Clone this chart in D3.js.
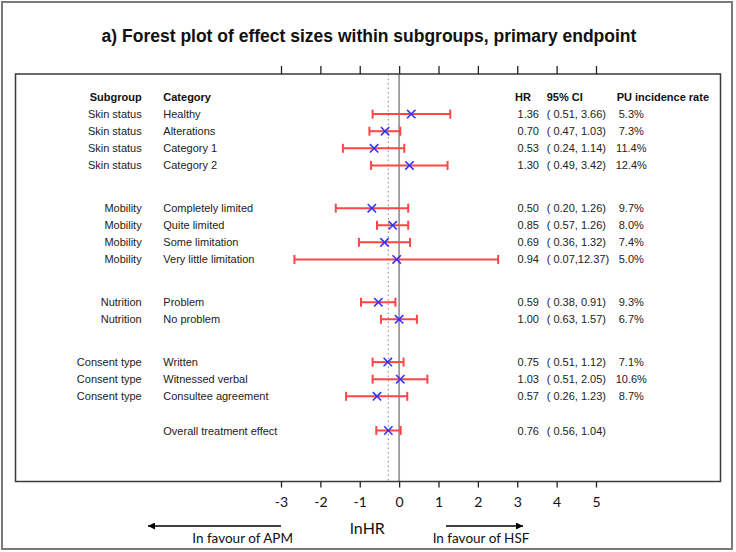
<!DOCTYPE html>
<html>
<head>
<meta charset="utf-8">
<script src="https://cdn.jsdelivr.net/npm/d3@7"></script>
<style>
  html, body { margin: 0; padding: 0; background: #fff; }
  svg text { white-space: pre; }
</style>
</head>
<body>
<svg id="chart" width="736" height="552"></svg>
<script>
// ---------------- data ----------------
const subgroups = ["Skin status","Skin status","Skin status","Skin status",
  "Mobility","Mobility","Mobility","Mobility",
  "Nutrition","Nutrition",
  "Consent type","Consent type","Consent type"];
const categories = ["Healthy","Alterations","Category 1","Category 2",
  "Completely limited","Quite limited","Some limitation","Very little limitation",
  "Problem","No problem",
  "Written","Witnessed verbal","Consultee agreement"];
const hr     = [1.36, 0.70, 0.53, 1.30, 0.50, 0.85, 0.69, 0.94, 0.59, 1.00, 0.75, 1.03, 0.57];
const ciLow  = [0.51, 0.47, 0.24, 0.49, 0.20, 0.57, 0.36, 0.07, 0.38, 0.63, 0.51, 0.51, 0.26];
const ciHigh = [3.66, 1.03, 1.14, 3.42, 1.26, 1.26, 1.32, 12.37, 0.91, 1.57, 1.12, 2.05, 1.23];
const incidence = ["5.3%","7.3%","11.4%","12.4%","9.7%","8.0%","7.4%","5.0%","9.3%","6.7%","7.1%","10.6%","8.7%"];
const overallLabel = "Overall treatment effect";
const overallHR = 0.76, overallLow = 0.56, overallHigh = 1.04;
const xTicks = [-3, -2, -1, 0, 1, 2, 3, 4, 5];
const headers = {subgroup: "Subgroup", category: "Category", hr: "HR", ci: "95% CI", pu: "PU incidence rate"};
const title = "a) Forest plot of effect sizes within subgroups, primary endpoint";
const xLabel = "lnHR";
const leftNote = "In favour of APM", rightNote = "In favour of HSF";

// ---------------- layout ----------------
const svg = d3.select("#chart");
const W = 736, H = 552;
const box = {l: 15.5, r: 720.5, t: 74, b: 481.5};

// row positions (group gaps)
const rowPos = [];
let p = 1;
subgroups.forEach((g, i) => {
  if (i > 0) p += (g === subgroups[i - 1]) ? 1 : 2.5;
  rowPos.push(p);
});
const overallPos = p + 2;

const rows = subgroups.map((g, i) => ({
  sub: g, cat: categories[i], hr: hr[i], lo: ciLow[i], hi: ciHigh[i], pu: incidence[i], pos: rowPos[i]
}));
rows.push({sub: "", cat: overallLabel, hr: overallHR, lo: overallLow, hi: overallHigh, pu: "", pos: overallPos});

const x = d3.scaleLinear().domain([-3, 5]).range([281, 596]);
const y = d3.scaleLinear().domain([0, overallPos]).range([97, 430.5]);

// outer frame
svg.append("rect").attr("x", 2).attr("y", 2).attr("width", W - 4 - 2).attr("height", H - 4 - 1)
  .attr("fill", "none").attr("stroke", "#7a7a7a").attr("stroke-width", 2);

// title
svg.append("text").attr("x", 369).attr("y", 42).attr("text-anchor", "middle")
  .attr("font-family", "Liberation Sans, Arial, sans-serif").attr("font-weight", "bold")
  .attr("font-size", 17.5).attr("fill", "#111").text(title);

// reference lines
svg.append("line").attr("x1", x(Math.log(overallHR))).attr("x2", x(Math.log(overallHR)))
  .attr("y1", box.t).attr("y2", box.b).attr("stroke", "#9a9a9a").attr("stroke-width", 1.2)
  .attr("stroke-dasharray", "1.5,3");
svg.append("line").attr("x1", x(0)).attr("x2", x(0)).attr("y1", box.t).attr("y2", box.b)
  .attr("stroke", "#9a9a9a").attr("stroke-width", 1.8);

// plot box
svg.append("rect").attr("x", box.l).attr("y", box.t).attr("width", box.r - box.l).attr("height", box.b - box.t)
  .attr("fill", "none").attr("stroke", "#3a3a3a").attr("stroke-width", 1.5);

// axes
const bottomAxis = d3.axisBottom(x).tickValues(xTicks).tickSize(6).tickPadding(10)
  .tickFormat(d => d < 0 ? "-" + Math.abs(d) : String(d));
const gB = svg.append("g").attr("transform", `translate(0,${box.b})`).call(bottomAxis);
gB.select(".domain").remove();
gB.selectAll(".tick line").attr("stroke", "#222").attr("stroke-width", 1.3);
gB.selectAll(".tick text").attr("font-family", "Lato, 'Open Sans', sans-serif").attr("font-size", 14).attr("fill", "#111");

const topAxis = d3.axisTop(x).tickValues(xTicks).tickSize(8).tickFormat("");
const gT = svg.append("g").attr("transform", `translate(0,${box.t})`).call(topAxis);
gT.select(".domain").remove();
gT.selectAll(".tick line").attr("stroke", "#222").attr("stroke-width", 1.3);

// table text
const font = "Liberation Sans, Arial, sans-serif";
const fs = 11;
const hdr = svg.append("g").attr("font-family", font).attr("font-size", fs).attr("font-weight", "bold").attr("fill", "#111");
hdr.append("text").attr("x", 141.7).attr("y", y(0) + 4).attr("text-anchor", "end").text(headers.subgroup);
hdr.append("text").attr("x", 163.3).attr("y", y(0) + 4).text(headers.category);
hdr.append("text").attr("x", 515).attr("y", y(0) + 4).text(headers.hr);
hdr.append("text").attr("x", 546.7).attr("y", y(0) + 4).text(headers.ci);
hdr.append("text").attr("x", 616.7).attr("y", y(0) + 4).text(headers.pu);

const pad5 = v => { const s = v.toFixed(2); return " ".repeat(Math.max(0, 5 - s.length)) + s; };
const body = svg.append("g").attr("font-family", font).attr("font-size", fs).attr("fill", "#222");
const rowG = body.selectAll("g.row").data(rows).join("g").attr("class", "row");
rowG.append("text").attr("x", 141.7).attr("y", d => y(d.pos) + 4).attr("text-anchor", "end").text(d => d.sub);
rowG.append("text").attr("x", 163.3).attr("y", d => y(d.pos) + 4).text(d => d.cat);
rowG.append("text").attr("x", 539).attr("y", d => y(d.pos) + 4).attr("text-anchor", "end").text(d => d.hr.toFixed(2));
rowG.append("text").attr("x", 546.7).attr("y", d => y(d.pos) + 4).text(d => "(" + pad5(d.lo) + "," + pad5(d.hi) + ")");
rowG.append("text").attr("x", 631.3).attr("y", d => y(d.pos) + 4).attr("text-anchor", "middle").text(d => d.pu);

// CI bars
const red = "#ff4545", blue = "#3434ff";
const ci = svg.append("g").attr("stroke", red).attr("stroke-width", 2).attr("fill", "none");
rows.forEach(d => {
  const yy = y(d.pos);
  const x1 = x(Math.log(d.lo)), x2 = x(Math.log(d.hi));
  ci.append("line").attr("x1", x1).attr("x2", x2).attr("y1", yy).attr("y2", yy);
  ci.append("line").attr("x1", x1).attr("x2", x1).attr("y1", yy - 4.5).attr("y2", yy + 4.5);
  ci.append("line").attr("x1", x2).attr("x2", x2).attr("y1", yy - 4.5).attr("y2", yy + 4.5);
});
// markers
const mk = svg.append("g").attr("stroke", blue).attr("stroke-width", 1.6);
const s = 4.2;
rows.forEach(d => {
  const xx = x(Math.log(d.hr)), yy = y(d.pos);
  mk.append("line").attr("x1", xx - s).attr("x2", xx + s).attr("y1", yy - s).attr("y2", yy + s);
  mk.append("line").attr("x1", xx - s).attr("x2", xx + s).attr("y1", yy + s).attr("y2", yy - s);
});

// x label and notes
const noteFont = "Lato, 'Open Sans', sans-serif";
svg.append("text").attr("x", 367.5).attr("y", 534).attr("text-anchor", "middle")
  .attr("font-family", noteFont).attr("font-size", 16).attr("fill", "#111").text(xLabel);

const defs = svg.append("defs");
defs.append("marker").attr("id", "ah").attr("viewBox", "0 0 10 10").attr("refX", 10).attr("refY", 5)
  .attr("markerWidth", 10).attr("markerHeight", 7).attr("markerUnits", "userSpaceOnUse").attr("orient", "auto")
  .append("path").attr("d", "M0,0 L10,5 L0,10 z").attr("fill", "#000");

svg.append("line").attr("x1", x(-3)).attr("x2", 148).attr("y1", 526).attr("y2", 526)
  .attr("stroke", "#000").attr("stroke-width", 1.5).attr("marker-end", "url(#ah)");
svg.append("line").attr("x1", 446).attr("x2", 523).attr("y1", 526).attr("y2", 526)
  .attr("stroke", "#000").attr("stroke-width", 1.5).attr("marker-end", "url(#ah)");

svg.append("text").attr("x", 293).attr("y", 543).attr("text-anchor", "end")
  .attr("font-family", noteFont).attr("font-size", 13.5).attr("fill", "#111").text(leftNote);
svg.append("text").attr("x", 432.7).attr("y", 543)
  .attr("font-family", noteFont).attr("font-size", 13.5).attr("fill", "#111").text(rightNote);
</script>
</body>
</html>
